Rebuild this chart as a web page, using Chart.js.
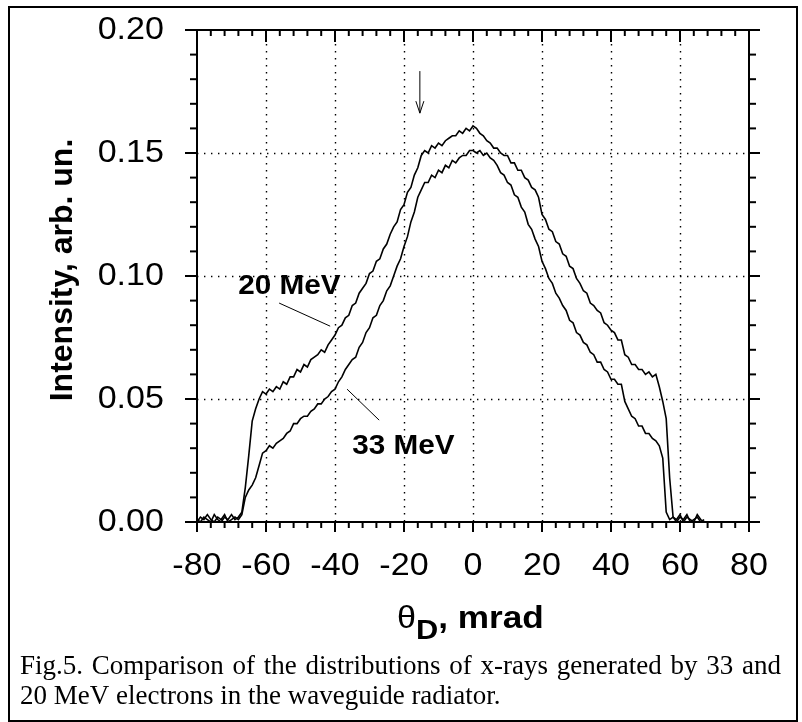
<!DOCTYPE html>
<html>
<head>
<meta charset="utf-8">
<script src="https://cdn.jsdelivr.net/npm/chart.js@4.4.1/dist/chart.umd.min.js"></script>
<style>
  html, body { margin: 0; padding: 0; background: #fff; }
  #chart { display: block; }
</style>
</head>
<body>
<canvas id="chart" width="802" height="722"></canvas>
<script>
// theta_D, mrad (one reading per mrad)
const theta = [
    -80, -79, -78, -77, -76, -75, -74, -73, -72, -71, -70, -69, -68, -67, -66, -65, -64, -63, -62, -61,
    -60, -59, -58, -57, -56, -55, -54, -53, -52, -51, -50, -49, -48, -47, -46, -45, -44, -43, -42, -41,
    -40, -39, -38, -37, -36, -35, -34, -33, -32, -31, -30, -29, -28, -27, -26, -25, -24, -23, -22, -21,
    -20, -19, -18, -17, -16, -15, -14, -13, -12, -11, -10, -9, -8, -7, -6, -5, -4, -3, -2, -1,
    0, 1, 2, 3, 4, 5, 6, 7, 8, 9, 10, 11, 12, 13, 14, 15, 16, 17, 18, 19,
    20, 21, 22, 23, 24, 25, 26, 27, 28, 29, 30, 31, 32, 33, 34, 35, 36, 37, 38, 39,
    40, 41, 42, 43, 44, 45, 46, 47, 48, 49, 50, 51, 52, 53, 54, 55, 56, 57, 58, 59,
    60, 61, 62, 63, 64, 65, 66, 67
];

// intensity, 20 MeV electrons (upper curve)
const mev20 = [
    0.001, 0.000, 0.002, 0.001, 0.000, 0.003, 0.001, 0.000, 0.002, 0.001, 0.003, 0.001, 0.002, 0.004, 0.014, 0.027, 0.041, 0.046, 0.050, 0.053,
    0.052, 0.054, 0.053, 0.055, 0.054, 0.057, 0.056, 0.059, 0.059, 0.062, 0.061, 0.064, 0.063, 0.066, 0.067, 0.068, 0.070, 0.069, 0.072, 0.074,
    0.076, 0.079, 0.080, 0.083, 0.084, 0.088, 0.089, 0.093, 0.095, 0.097, 0.101, 0.102, 0.106, 0.107, 0.111, 0.113, 0.117, 0.120, 0.122, 0.127,
    0.129, 0.134, 0.136, 0.141, 0.144, 0.149, 0.151, 0.150, 0.153, 0.152, 0.154, 0.153, 0.155, 0.156, 0.157, 0.157, 0.159, 0.158, 0.160, 0.159,
    0.161, 0.160, 0.158, 0.157, 0.155, 0.154, 0.152, 0.152, 0.150, 0.149, 0.149, 0.146, 0.146, 0.143, 0.143, 0.140, 0.139, 0.136, 0.135, 0.132,
    0.125, 0.123, 0.119, 0.118, 0.114, 0.113, 0.109, 0.108, 0.104, 0.103, 0.099, 0.097, 0.094, 0.093, 0.089, 0.088, 0.086, 0.085, 0.081, 0.080,
    0.078, 0.077, 0.074, 0.074, 0.068, 0.067, 0.064, 0.064, 0.062, 0.062, 0.060, 0.061, 0.059, 0.060, 0.055, 0.049, 0.042, 0.018, 0.002, 0.001,
    0.003, 0.000, 0.002, 0.001, 0.000, 0.003, 0.001, 0.000
];

// intensity, 33 MeV electrons (lower curve)
const mev33 = [
    0.000, 0.002, 0.001, 0.003, 0.001, 0.000, 0.002, 0.001, 0.003, 0.000, 0.001, 0.002, 0.001, 0.003, 0.010, 0.013, 0.015, 0.018, 0.023, 0.028,
    0.029, 0.031, 0.030, 0.032, 0.033, 0.034, 0.036, 0.037, 0.040, 0.040, 0.042, 0.043, 0.043, 0.045, 0.046, 0.048, 0.048, 0.050, 0.051, 0.053,
    0.054, 0.057, 0.059, 0.062, 0.064, 0.066, 0.067, 0.071, 0.073, 0.077, 0.079, 0.083, 0.084, 0.088, 0.090, 0.094, 0.096, 0.100, 0.104, 0.107,
    0.112, 0.116, 0.122, 0.126, 0.132, 0.135, 0.138, 0.138, 0.141, 0.140, 0.143, 0.142, 0.145, 0.144, 0.147, 0.146, 0.148, 0.149, 0.149, 0.151,
    0.151, 0.150, 0.151, 0.149, 0.150, 0.148, 0.147, 0.145, 0.142, 0.141, 0.138, 0.137, 0.133, 0.132, 0.128, 0.126, 0.121, 0.119, 0.115, 0.112,
    0.106, 0.103, 0.099, 0.097, 0.093, 0.091, 0.088, 0.086, 0.082, 0.081, 0.077, 0.076, 0.073, 0.072, 0.069, 0.068, 0.065, 0.065, 0.062, 0.061,
    0.058, 0.058, 0.056, 0.056, 0.049, 0.046, 0.043, 0.042, 0.039, 0.039, 0.036, 0.036, 0.034, 0.033, 0.031, 0.026, 0.004, 0.001, 0.002, 0.000,
    0.002, 0.001, 0.003, 0.000, 0.001, 0.002, 0.000, 0.001
];

const xTickLabels = ['-80', '-60', '-40', '-20', '0', '20', '40', '60', '80'];
const yTickLabels = ['0.00', '0.05', '0.10', '0.15', '0.20'];
const captionLines = [
    'Fig.5. Comparison of the distributions of x-rays generated by 33 and',
    '20 MeV electrons in the waveguide radiator.'
];

// the original figure is a little wider than tall, so text is stretched
const STRETCH = 1.1;

function drawText(ctx, text, x, y, font, align) {
    ctx.save();
    ctx.font = font;
    ctx.fillStyle = '#000';
    ctx.textBaseline = 'middle';
    ctx.textAlign = align || 'center';
    ctx.translate(x, y);
    ctx.scale(STRETCH, 1);
    ctx.fillText(text, 0, 0);
    ctx.restore();
}

function line(ctx, x1, y1, x2, y2) {
    ctx.beginPath();
    ctx.moveTo(x1, y1);
    ctx.lineTo(x2, y2);
    ctx.stroke();
}

const framePlugin = {
    id: 'frame',
    beforeDatasetsDraw(chart) {
        const ctx = chart.ctx;
        const xs = chart.scales.x;
        const ys = chart.scales.y;
        const a = chart.chartArea;

        // dotted grid on major ticks
        ctx.save();
        ctx.strokeStyle = '#000';
        ctx.lineWidth = 1.4;
        ctx.setLineDash([1.4, 5.6]);
        for (let v = -60; v <= 60; v += 20) {
            const px = Math.round(xs.getPixelForValue(v)) + 0.5;
            line(ctx, px, a.top + 14, px, a.bottom);
        }
        for (let v = 0.05; v < 0.19; v += 0.05) {
            const py = Math.round(ys.getPixelForValue(v)) + 0.5;
            line(ctx, a.left, py, a.right, py);
        }
        ctx.restore();

        // ticks
        ctx.save();
        ctx.strokeStyle = '#000';
        ctx.lineWidth = 2;
        for (let i = 0; i <= 40; i++) {
            const v = -80 + i * 4;
            const major = i % 5 === 0;
            const px = xs.getPixelForValue(v);
            line(ctx, px, a.bottom, px, a.bottom + (major ? 10 : 6));
            line(ctx, px, a.top, px, a.top + (major ? 12 : 6));
        }
        for (let i = 0; i <= 20; i++) {
            const v = i * 0.01;
            const major = i % 5 === 0;
            const py = ys.getPixelForValue(v);
            line(ctx, a.left, py, a.left - (major ? 12 : 7), py);
            line(ctx, a.right, py, a.right + (major ? 11 : 7), py);
        }
        ctx.restore();
    },
    afterDatasetsDraw(chart) {
        const ctx = chart.ctx;
        const xs = chart.scales.x;
        const ys = chart.scales.y;
        const a = chart.chartArea;

        // axes box
        ctx.save();
        ctx.strokeStyle = '#000';
        ctx.lineWidth = 2;
        ctx.strokeRect(a.left, a.top, a.right - a.left, a.bottom - a.top);
        ctx.restore();

        // tick labels
        const tickFont = '31px "Liberation Sans", Arial, sans-serif';
        xTickLabels.forEach(function(t) {
            drawText(ctx, t, xs.getPixelForValue(Number(t)), a.bottom + 44, tickFont, 'center');
        });
        yTickLabels.forEach(function(t) {
            drawText(ctx, t, 164, ys.getPixelForValue(Number(t)), tickFont, 'right');
        });

        // y title
        ctx.save();
        ctx.translate(63, 270);
        ctx.rotate(-Math.PI / 2);
        ctx.font = 'bold 32px "Liberation Sans", Arial, sans-serif';
        ctx.fillStyle = '#000';
        ctx.textAlign = 'center';
        ctx.textBaseline = 'middle';
        ctx.fillText('Intensity, arb. un.', 0, 0);
        ctx.restore();

        // x title: theta_D, mrad
        ctx.save();
        ctx.fillStyle = '#000';
        ctx.textBaseline = 'alphabetic';
        ctx.translate(397, 0);
        ctx.scale(STRETCH, 1);
        ctx.font = '31px "Liberation Sans", Arial, sans-serif';
        ctx.fillText('\u03b8', 0, 628);
        let w = ctx.measureText('\u03b8').width;
        ctx.font = 'bold 28px "Liberation Sans", Arial, sans-serif';
        ctx.fillText('D', w, 639);
        w += ctx.measureText('D').width;
        ctx.font = 'bold 32px "Liberation Sans", Arial, sans-serif';
        ctx.fillText(', mrad', w, 628);
        ctx.restore();

        // curve labels and leader lines
        const labelFont = 'bold 27px "Liberation Sans", Arial, sans-serif';
        drawText(ctx, '20 MeV', xs.getPixelForValue(-53.2), ys.getPixelForValue(0.0958), labelFont, 'center');
        drawText(ctx, '33 MeV', xs.getPixelForValue(-20.2), ys.getPixelForValue(0.0308), labelFont, 'center');
        ctx.save();
        ctx.strokeStyle = '#000';
        ctx.lineWidth = 1;
        line(ctx, xs.getPixelForValue(-56.2), ys.getPixelForValue(0.089), xs.getPixelForValue(-41.4), ys.getPixelForValue(0.0796));
        line(ctx, xs.getPixelForValue(-36.5), ys.getPixelForValue(0.054), xs.getPixelForValue(-27.2), ys.getPixelForValue(0.0414));

        // arrow marking the shoulder
        const ax = xs.getPixelForValue(-15.4);
        const ay1 = ys.getPixelForValue(0.1833);
        const ay2 = ys.getPixelForValue(0.1662);
        line(ctx, ax, ay1, ax, ay2);
        line(ctx, ax - 4, ay2 - 12, ax, ay2);
        line(ctx, ax + 4, ay2 - 12, ax, ay2);
        ctx.restore();

        // caption, first line justified
        ctx.save();
        ctx.fillStyle = '#000';
        ctx.font = '27px "Liberation Serif", "Times New Roman", serif';
        ctx.textBaseline = 'alphabetic';
        const left = 20, right = 781;
        const words = captionLines[0].split(' ');
        const natural = words.reduce(function(s, wd) { return s + ctx.measureText(wd).width; }, 0);
        const gap = (right - left - natural) / (words.length - 1);
        let px = left;
        words.forEach(function(wd) {
            ctx.fillText(wd, px, 674);
            px += ctx.measureText(wd).width + gap;
        });
        ctx.fillText(captionLines[1], left, 704);
        ctx.restore();

        // outer frame
        ctx.save();
        ctx.strokeStyle = '#000';
        ctx.lineWidth = 2;
        ctx.strokeRect(9, 7, 788, 714);
        ctx.restore();
    }
};

const ctx = document.getElementById('chart');
new Chart(ctx, {
    type: 'line',
    data: {
        datasets: [
            {
                label: '20 MeV',
                data: theta.map((t, i) => ({ x: t, y: mev20[i] })),
                borderColor: '#000',
                borderWidth: 1.6,
                pointRadius: 0,
                tension: 0,
                fill: false
            },
            {
                label: '33 MeV',
                data: theta.map((t, i) => ({ x: t, y: mev33[i] })),
                borderColor: '#000',
                borderWidth: 1.6,
                pointRadius: 0,
                tension: 0,
                fill: false
            }
        ]
    },
    options: {
        responsive: false,
        animation: false,
        devicePixelRatio: 1,
        layout: {
            padding: { left: 197, top: 30, right: 53, bottom: 200 }
        },
        plugins: {
            legend: { display: false },
            tooltip: { enabled: false }
        },
        scales: {
            x: { type: 'linear', min: -80, max: 80, display: false },
            y: { min: 0, max: 0.2, display: false }
        }
    },
    plugins: [framePlugin]
});
</script>
</body>
</html>
